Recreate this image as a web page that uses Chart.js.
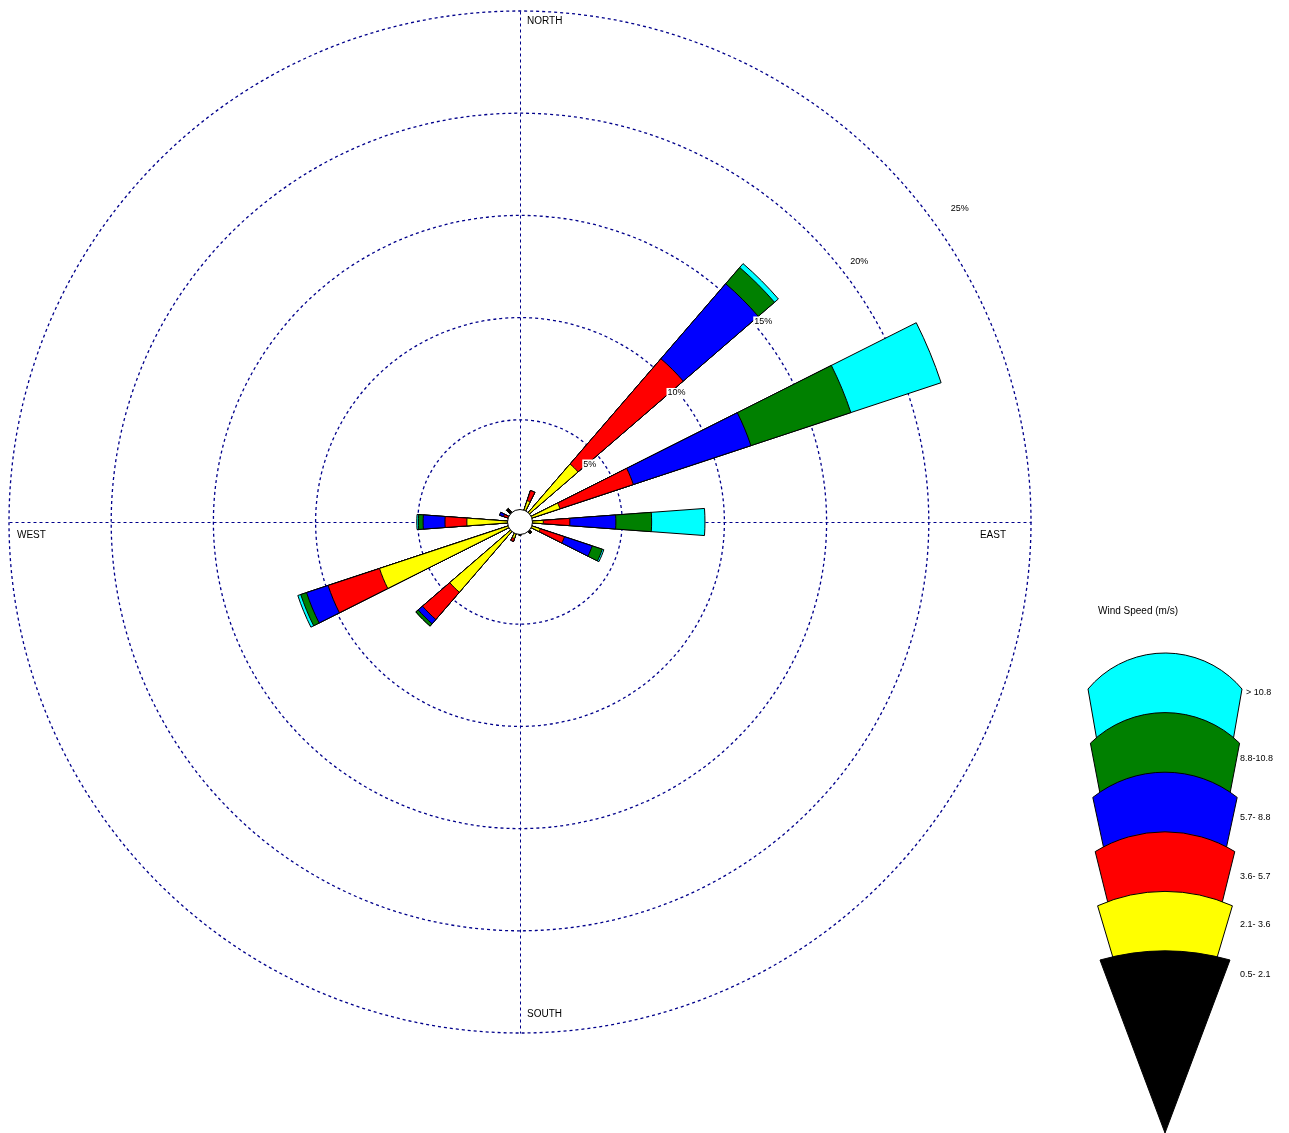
<!DOCTYPE html>
<html>
<head>
<meta charset="utf-8">
<title>Wind Rose</title>
<script src="https://cdn.jsdelivr.net/npm/chart.js@4.4.1/dist/chart.umd.min.js"></script>
<style>
  html, body { margin: 0; padding: 0; background: #fff; }
  #wrap { width: 1289px; height: 1133px; }
</style>
</head>
<body>
<div id="wrap"><canvas id="rose" width="1289" height="1133"></canvas></div>
<script>
// 16 directions, frequency (%) per wind speed class
const directions = ['N', 'NNE', 'NE', 'ENE', 'E', 'ESE', 'SE', 'SSE', 'S', 'SSW', 'SW', 'WSW', 'W', 'WNW', 'NW', 'NNW'];
const speedClasses = ['0.5- 2.1', '2.1- 3.6', '3.6- 5.7', '5.7- 8.8', '8.8-10.8', '> 10.8'];
const classColors = ['#000000', '#ffff00', '#ff0000', '#0000ff', '#008000', '#00ffff'];

const speed05to21 = [0.30, 0.40, 0.40, 0.40, 0.40, 0.40, 0.75, 0.50, 0.65, 0.40, 0.40, 0.40, 0.40, 0.50, 0.87, 0.30];
const speed21to36 = [0, 0.70, 3.35, 1.66, 0.74, 0.64, 0, 0, 0, 0.45, 4.14, 6.84, 2.20, 0.10, 0, 0];
const speed36to57 = [0, 0.52, 6.80, 3.78, 1.30, 1.25, 0, 0, 0, 0.15, 1.76, 2.65, 1.07, 0.25, 0, 0];
const speed57to88 = [0, 0, 4.85, 6.06, 2.25, 1.43, 0, 0, 0, 0, 0.28, 1.11, 1.07, 0.20, 0, 0];
const speed88to108 = [0, 0, 1.05, 5.15, 1.75, 0.52, 0, 0, 0, 0, 0.15, 0.30, 0.23, 0, 0, 0];
const speedOver108 = [0, 0, 0.25, 4.65, 2.61, 0.08, 0, 0, 0, 0, 0, 0.15, 0.08, 0, 0, 0];

const ringTicks = [5, 10, 15, 20, 25];
const compassLabels = ['NORTH', 'EAST', 'SOUTH', 'WEST'];

const classSeries = [speed05to21, speed21to36, speed36to57, speed57to88, speed88to108, speedOver108];

const WEDGE_DEG = 8.4;
const GAP_DEG = 22.5 - WEDGE_DEG;
const GRID_COLOR = '#00008b';
const FONT = '"Liberation Sans", Arial, sans-serif';

// each direction gets a wedge slot and an empty gap slot
function buildLabels() {
    const labels = [];
    directions.forEach(d => { labels.push(d, ''); });
    return labels;
}

// stacked look: every class is drawn from the centre out to its running total,
// the slower classes are drawn on top
function buildDatasets() {
    const running = directions.map(() => 0);
    return classSeries.map((series, k) => {
        const data = [];
        series.forEach((v, i) => {
            running[i] += v;
            data.push(running[i], 0);
        });
        return {
            label: speedClasses[k],
            data: data,
            backgroundColor: classColors[k],
            borderColor: '#000',
            borderWidth: 1,
            angle: ctx => (ctx.dataIndex % 2 === 0 ? WEDGE_DEG : GAP_DEG)
        };
    });
}

function drawLegend(ctx) {
    const cx = 1165;
    const apexY = 1133;
    const legendTextY = [693, 759, 818, 877, 925, 975];
    const n = speedClasses.length;

    ctx.save();
    ctx.fillStyle = '#000';
    ctx.textBaseline = 'middle';
    ctx.textAlign = 'left';
    ctx.font = '10px ' + FONT;
    ctx.fillText('Wind Speed (m/s)', 1098, 611);

    const shapes = [];
    for (let i = 0; i < n; i++) {
        const topY = 653 + 59.6 * i;
        const sag = 36 - 5.4 * i;
        shapes.push({ topY: topY, sag: sag, cornerY: topY + sag, hw: 77 - 2.4 * i });
    }

    ctx.lineWidth = 1;
    ctx.strokeStyle = '#000';
    for (let i = 0; i < n; i++) {
        const s = shapes[i];
        const k = n - 1 - i;
        const R = (s.hw * s.hw + s.sag * s.sag) / (2 * s.sag);
        const cyc = s.topY + R;
        const a0 = Math.atan2(s.cornerY - cyc, -s.hw);
        const a1 = Math.atan2(s.cornerY - cyc, s.hw);

        ctx.beginPath();
        if (i < n - 1) {
            const by = shapes[i + 1].cornerY - 2;
            const bhw = s.hw * (apexY - by) / (apexY - s.cornerY);
            ctx.moveTo(cx - bhw, by);
            ctx.lineTo(cx - s.hw, s.cornerY);
            ctx.arc(cx, cyc, R, a0, a1);
            ctx.lineTo(cx + bhw, by);
        } else {
            ctx.moveTo(cx, apexY);
            ctx.lineTo(cx - s.hw, s.cornerY);
            ctx.arc(cx, cyc, R, a0, a1);
        }
        ctx.closePath();
        ctx.fillStyle = classColors[k];
        ctx.fill();
        ctx.stroke();

        ctx.fillStyle = '#000';
        ctx.font = '9px ' + FONT;
        ctx.fillText(speedClasses[k], k === n - 1 ? 1246 : 1240, legendTextY[i]);
    }
    ctx.restore();
}

const roseDecor = {
    id: 'roseDecor',
    beforeDatasetsDraw(chart) {
        const r = chart.scales.r;
        const ctx = chart.ctx;
        const R = r.getDistanceFromCenterForValue(r.max);
        const x = r.xCenter + 0.5;
        const y = r.yCenter + 0.5;
        ctx.save();
        ctx.strokeStyle = GRID_COLOR;
        ctx.lineWidth = 1;
        ctx.setLineDash([3, 3]);
        ctx.beginPath();
        ctx.moveTo(x, y - R);
        ctx.lineTo(x, y + R);
        ctx.moveTo(x - R, y);
        ctx.lineTo(x + R, y);
        ctx.stroke();
        ctx.restore();
    },
    afterDatasetsDraw(chart) {
        const r = chart.scales.r;
        const ctx = chart.ctx;
        const cx = r.xCenter;
        const cy = r.yCenter;
        const R = r.getDistanceFromCenterForValue(r.max);

        ctx.save();
        // calm circle
        ctx.beginPath();
        ctx.arc(cx, cy, 12.5, 0, Math.PI * 2);
        ctx.fillStyle = '#fff';
        ctx.fill();
        ctx.strokeStyle = '#000';
        ctx.lineWidth = 1;
        ctx.stroke();

        // ring labels
        ctx.font = '9px ' + FONT;
        ctx.textAlign = 'center';
        ctx.textBaseline = 'middle';
        ringTicks.forEach(v => {
            const d = r.getDistanceFromCenterForValue(v) * 1.1 - 22;
            const a = (39.5 - Math.max(0, v - 15) * 0.4) * Math.PI / 180;
            const tx = cx + d * Math.cos(a);
            const ty = cy - d * Math.sin(a);
            const txt = v + '%';
            const w = ctx.measureText(txt).width;
            ctx.fillStyle = '#fff';
            ctx.fillRect(tx - w / 2 - 1, ty - 5, w + 2, 10);
            ctx.fillStyle = '#000';
            ctx.fillText(txt, tx, ty);
        });

        // compass labels
        ctx.font = '10px ' + FONT;
        ctx.fillStyle = '#000';
        ctx.textAlign = 'left';
        ctx.fillText(compassLabels[0], cx + 7, cy - R + 10);
        ctx.fillText(compassLabels[2], cx + 7, cy + R - 19);
        ctx.fillText(compassLabels[3], cx - R + 8, cy + 13);
        ctx.textAlign = 'right';
        ctx.fillText(compassLabels[1], cx + R - 25, cy + 13);
        ctx.restore();

        drawLegend(ctx);
    }
};

const roseChart = new Chart(document.getElementById('rose'), {
    type: 'polarArea',
    data: {
        labels: buildLabels(),
        datasets: buildDatasets()
    },
    options: {
        responsive: false,
        animation: false,
        events: [],
        layout: {
            padding: { left: 9, top: 11, right: 258, bottom: 100 }
        },
        plugins: {
            legend: { display: false },
            tooltip: { enabled: false }
        },
        scales: {
            r: {
                min: 0,
                max: 25,
                startAngle: -WEDGE_DEG / 2,
                ticks: { stepSize: 5, display: false },
                grid: { circular: true, color: GRID_COLOR, lineWidth: 1.3 },
                border: { dash: [3, 3] },
                angleLines: { display: false },
                pointLabels: { display: false }
            }
        }
    },
    plugins: [roseDecor]
});
</script>
</body>
</html>
